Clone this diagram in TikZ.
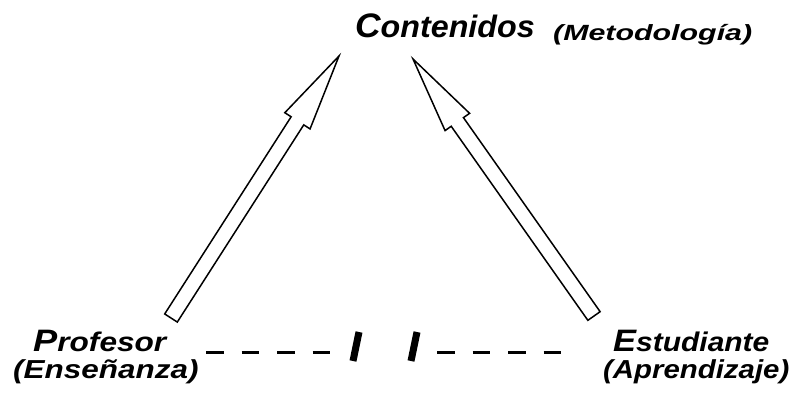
\documentclass[tikz,border=0pt]{standalone}
\usepackage{fontspec}
\usepackage{graphicx}
\setmainfont{Liberation Sans}
\usetikzlibrary{calc,positioning}

\newcommand{\fsz}[1]{\fontsize{#1}{#1}\selectfont}
\newcommand{\firstbig}[2]{{\fsz{31}#1}{\fsz{27}#2}}
\newcommand{\wide}[2]{\scalebox{#1}[1]{#2}}

\tikzset{
  lbl/.style={font=\bfseries\itshape, inner sep=0pt, anchor=base west},
  hollow/.style={draw, line width=1.5pt, fill=white, line join=miter},
  dashrow/.style={line width=3pt, dash pattern=on 17.5pt off 18pt},
  slashbar/.style={line width=7pt}
}

% block arrow: tail, tip, name
\newcommand{\blockarrow}[3]{%
  \coordinate (#3-neck) at ($(#2)!77pt!(#1)$);
  \draw[hollow] ($(#1)!7.5pt!90:(#2)$)
    -- ($(#3-neck)!7.5pt!90:(#2)$)
    -- ($(#3-neck)!15pt!90:(#2)$)
    -- (#2)
    -- ($(#3-neck)!15pt!-90:(#2)$)
    -- ($(#3-neck)!7.5pt!-90:(#2)$)
    -- ($(#1)!7.5pt!-90:(#2)$) -- cycle;
}

\begin{document}
\begin{tikzpicture}[x=1pt,y=-1pt]
\useasboundingbox (0,0) rectangle (793,392);

\node[lbl] (cont) at (355,37) {\wide{1.04}{{\fsz{34}C}{\fsz{31}ontenidos}}};
\node[lbl] (metod) at (553,40) {\wide{1.38}{\fsz{22}(Metodología)}};
\node[lbl] (prof) at (33,351) {\wide{1.17}{\firstbig{P}{rofesor}}};
\node[lbl] (ense) at (13,378) {\wide{1.21}{\fsz{26}(Enseñanza)}};
\node[lbl] (estu) at (613,351) {\wide{1.11}{\firstbig{E}{studiante}}};
\node[lbl] (apre) at (603,378) {\wide{1.13}{\fsz{26}(Aprendizaje)}};

\coordinate (prof-tail) at (171,318);
\coordinate (prof-tip) at (339,56);
\coordinate (estu-tail) at (594,316);
\coordinate (estu-tip) at (413,59);

\blockarrow{prof-tail}{prof-tip}{pa}
\blockarrow{estu-tail}{estu-tip}{ea}

% relation line
\coordinate (rel-a) at (206,352);
\coordinate (rel-b) at (332,352);
\coordinate (rel-c) at (437,352);
\coordinate (rel-d) at (563,352);
\draw[dashrow] (rel-a) -- (rel-b);
\draw[dashrow] (rel-c) -- (rel-d);
\draw[slashbar] (359,332) -- (353,361);
\draw[slashbar] (417,332) -- (411,361);

\end{tikzpicture}
\end{document}
